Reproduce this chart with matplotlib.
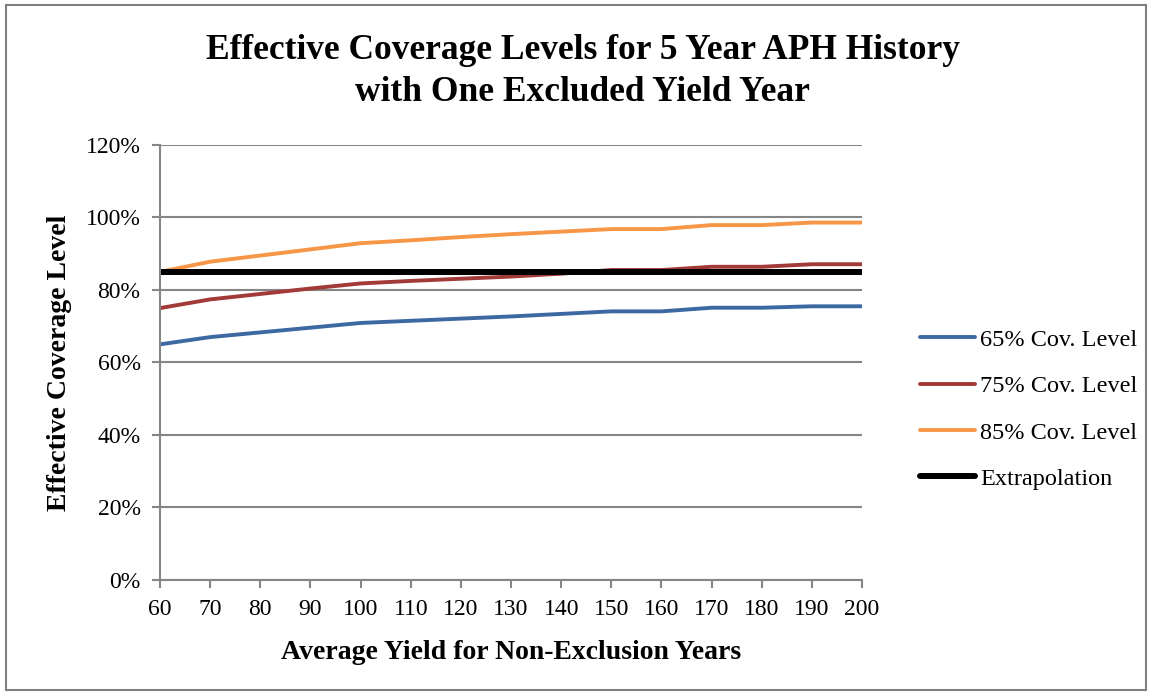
import numpy as np
import matplotlib
matplotlib.use("Agg")
import matplotlib.pyplot as plt
from matplotlib.patches import Rectangle
from matplotlib.ticker import FuncFormatter, MultipleLocator

plt.rcParams['font.family'] = ['Liberation Serif', 'DejaVu Serif']

# --- data ---
avg_yield = [60, 70, 80, 90, 100, 110, 120, 130, 140, 150, 160, 170, 180, 190, 200]
cov_65 = [65.0, 67.0, 68.3, 69.6, 70.9, 71.5, 72.1, 72.7, 73.4, 74.1, 74.1, 75.1, 75.1, 75.5, 75.5]
cov_75 = [75.0, 77.4, 78.9, 80.4, 81.8, 82.5, 83.1, 83.7, 84.5, 85.5, 85.5, 86.4, 86.4, 87.1, 87.1]
cov_85 = [85.0, 87.8, 89.5, 91.2, 92.9, 93.7, 94.6, 95.4, 96.1, 96.8, 96.8, 97.9, 97.9, 98.6, 98.6]
extrapolation = [85.0] * len(avg_yield)

series = [
    ("65% Cov. Level", cov_65, "#3D69A3", 2.8),
    ("75% Cov. Level", cov_75, "#A23A38", 2.8),
    ("85% Cov. Level", cov_85, "#F79646", 2.8),
    ("Extrapolation", extrapolation, "#000000", 4.3),
]

fig = plt.figure(figsize=(11.52, 6.94), dpi=100)
# outer chart border
fig.patches.append(Rectangle((0.005, 0.006), 0.99, 0.987, transform=fig.transFigure,
                             fill=False, edgecolor="#7f7f7f", linewidth=1.5))

ax = fig.add_axes([0.1389, 0.1643, 0.6094, 0.6268])
for name, vals, col, lw in series:
    ax.plot(avg_yield, vals, color=col, linewidth=lw, label=name, solid_capstyle='round')

ax.set_xlim(60, 200)
ax.set_ylim(0, 120)
ax.xaxis.set_major_locator(MultipleLocator(10))
ax.yaxis.set_major_locator(MultipleLocator(20))
ax.yaxis.set_major_formatter(FuncFormatter(lambda v, p: f"{v:.0f}%"))
ax.grid(axis='y', color="#868686", linewidth=1.5)
ax.set_axisbelow(True)
for s in ['top', 'right']:
    ax.spines[s].set_visible(False)
for s in ['left', 'bottom']:
    ax.spines[s].set_color("#868686")
    ax.spines[s].set_linewidth(1.5)
ax.tick_params(axis='both', direction='out', length=6, width=1.5, color="#868686",
               labelsize=17, pad=8)

ax.set_xlabel("Average Yield for Non-Exclusion Years", fontsize=20, fontweight='bold', labelpad=14)
ax.set_ylabel("Effective Coverage Level", fontsize=20, fontweight='bold', labelpad=10)

fig.text(0.506, 0.897, "Effective Coverage Levels for 5 Year APH History\nwith One Excluded Yield Year",
         ha='center', va='center', fontsize=25.5, fontweight='bold', linespacing=1.38)

ax.legend(loc='center left', bbox_to_anchor=(1.083, 0.392), frameon=False, fontsize=17.5,
          handlelength=2.26, labelspacing=1.0, handletextpad=0.2, borderpad=0, borderaxespad=0)

fig.savefig("out.png", dpi=100)
